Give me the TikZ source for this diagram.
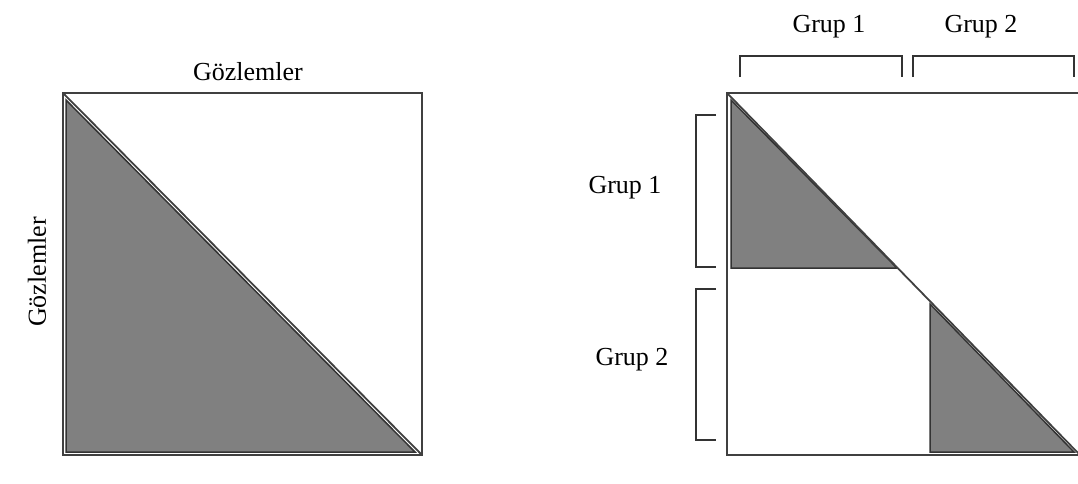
\documentclass[tikz,border=0pt]{standalone}
\usepackage{fontspec}
\setmainfont{Liberation Serif}
\begin{document}
\begin{tikzpicture}[x=0.5pt,y=-0.5pt,font=\fontsize{13}{15}\selectfont,line join=miter,line cap=butt]
\tikzset{frame/.style={draw=black!75,line width=0.9pt},
  tri/.style={draw=black!80,fill=black!50,line width=0.75pt},
  brace/.style={draw=black!80,line width=0.9pt}}
\clip (0,0) rectangle (1078,483);
% left panel
\draw[frame] (63,93) rectangle (422,455);
\draw[tri] (66,100) -- (66,452) -- (415,452) -- cycle;
\draw[frame] (63,93) -- (422,455);
\node (obsTop) at (248,72) {Gözlemler};
\node[rotate=90] (obsLeft) at (37,272) {Gözlemler};
% right panel
\draw[frame] (727,93) rectangle (1080,455);
\draw[tri] (731,100) -- (731,268) -- (897,268) -- cycle;
\draw[tri] (930,304) -- (930,452) -- (1074,452) -- cycle;
\draw[frame] (727,93) -- (1080,455);
\draw[brace] (740,77) -- (740,56) -- (902,56) -- (902,77);
\draw[brace] (913,77) -- (913,56) -- (1074,56) -- (1074,77);
\draw[brace] (716,115) -- (696,115) -- (696,267) -- (716,267);
\draw[brace] (716,289) -- (696,289) -- (696,440) -- (716,440);
\node (grpTopA) at (829,27) {Grup 1};
\node (grpTopB) at (981,27) {Grup 2};
\node (grpLeftA) at (625,188) {Grup 1};
\node (grpLeftB) at (632,360) {Grup 2};
\end{tikzpicture}
\end{document}
